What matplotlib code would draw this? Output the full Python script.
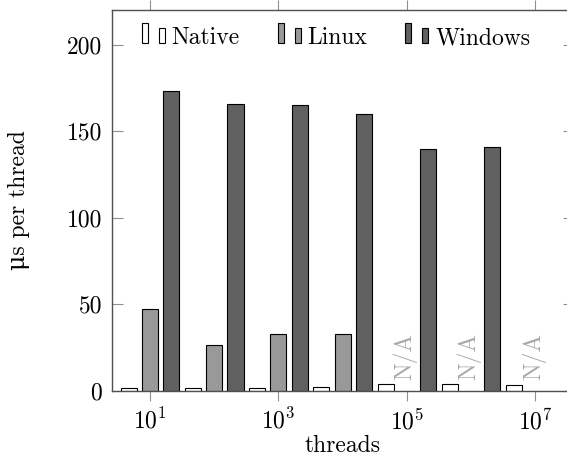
import numpy as np
import matplotlib
matplotlib.use("Agg")
import matplotlib.pyplot as plt
from matplotlib.container import BarContainer
from matplotlib.legend_handler import HandlerBase
from matplotlib.patches import Rectangle
from matplotlib.ticker import NullLocator

plt.rcParams['font.family'] = ['cmr10', 'DejaVu Serif']
plt.rcParams['mathtext.fontset'] = 'cm'
plt.rcParams['axes.formatter.use_mathtext'] = True
plt.rcParams['font.size'] = 17

# measurements (µs per thread); nan = no result
threads = [1e1, 1e2, 1e3, 1e4, 1e5, 1e6, 1e7]
native = [1.5, 1.5, 1.5, 2.5, 3.8, 3.8, 3.5]
linux = [47.5, 26.4, 32.9, 32.9, np.nan, np.nan, np.nan]
windows = [173.3, 166.0, 165.4, 160.2, 139.6, 141.0, np.nan]

names = ['Native', 'Linux', 'Windows']
colors = ['white', '#999999', '#606060']

BAR_W = 0.25     # bar width in decades
BAR_SHIFT = 0.33  # distance between bars of a group, in decades


class TwoBarHandler(HandlerBase):
    # pgfplots-like ybar legend image: a tall and a short bar
    def create_artists(self, legend, orig_handle, xdescent, ydescent,
                       width, height, fontsize, trans):
        fc = orig_handle.patches[0].get_facecolor()
        style = dict(facecolor=fc, edgecolor='black', linewidth=0.8,
                     transform=trans)
        tall = Rectangle((-xdescent, 1.0), 4.3, 14.4, **style)
        short = Rectangle((-xdescent + 12.2, 1.0), 4.3, 10.8, **style)
        return [tall, short]


fig = plt.figure(figsize=(5.67, 4.63), dpi=100)
ax = fig.add_axes([0.197, 0.1555, 0.8145, 0.8229])
ax.set_xscale('log')

x = np.array(threads)
for k, (vals, name, col) in enumerate(zip([native, linux, windows], names, colors)):
    shift = (k - 1) * BAR_SHIFT
    left = x * 10 ** (shift - BAR_W / 2)
    right = x * 10 ** (shift + BAR_W / 2)
    ax.bar(left, vals, width=right - left, align='edge', color=col,
           edgecolor='black', linewidth=0.8, label=name, zorder=2)

for xv, v in zip(threads, linux):
    if np.isnan(v):
        ax.annotate('N/A', xy=(xv, 0), xytext=(-1, 8), textcoords='offset points',
                    rotation=90, ha='center', va='bottom', color='#a8a8a8')

ax.set_xlim(10 ** 0.4, 10 ** 7.6)
ax.set_ylim(0, 220)
ax.set_xticks([1e1, 1e3, 1e5, 1e7])
ax.xaxis.set_minor_locator(NullLocator())
ax.set_yticks([0, 50, 100, 150, 200])
ax.set_yticklabels(['0', '50', '100', '150', '200'])

ax.tick_params(axis='x', which='major', direction='out', length=7.5, width=0.8,
               color='#909090', top=True, bottom=True, pad=5)
ax.tick_params(axis='y', which='major', direction='in', length=8, width=0.8,
               color='#909090', left=True, right=True, pad=7)
for sp in ax.spines.values():
    sp.set_color('#505050')
    sp.set_linewidth(1.0)

ax.set_xlabel('threads', labelpad=1)
ax.set_ylabel('\u03bcs per thread', labelpad=26)

ax.legend(handler_map={BarContainer: TwoBarHandler()}, loc='upper left',
          bbox_to_anchor=(0.065, 0.955), ncol=3, frameon=False,
          handlelength=0.97, handletextpad=0.3, columnspacing=1.6,
          borderpad=0, borderaxespad=0)

fig.savefig('out.png', dpi=100)
